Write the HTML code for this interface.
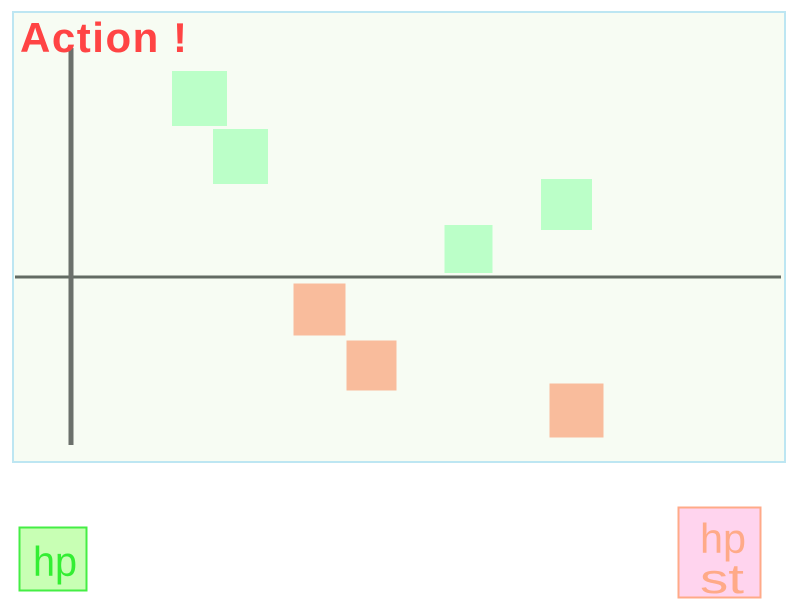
<!DOCTYPE html>
<html><head><meta charset="utf-8"><style>
body{margin:0;width:800px;height:600px;background:#fff;overflow:hidden;font-family:"Liberation Mono",monospace}
</style></head><body>
<svg width="800" height="600" xmlns="http://www.w3.org/2000/svg">
<rect x="13" y="12" width="772" height="450" fill="#f7fcf3" stroke="#bde6f2" stroke-width="2"/>
<g id="marks"></g>
<rect x="15" y="275.5" width="766" height="3" fill="#636b63"/>
<rect x="68.5" y="48" width="5" height="397" fill="#6b706b"/>
<text x="20" y="52" font-size="42" font-weight="bold" fill="#ff4444" font-family="Liberation Sans Narrow, Liberation Sans, sans-serif" textLength="167" lengthAdjust="spacing">Action !</text>
<g>
<rect x="19.5" y="527.5" width="67" height="63" fill="#c8ffb4" stroke="#44ee44" stroke-width="2"/>
<text x="33" y="576" font-size="42" fill="#33ee33" font-family="Liberation Sans Narrow, Liberation Sans, sans-serif" textLength="44" lengthAdjust="spacingAndGlyphs">hp</text>
</g>
<g>
<rect x="678.5" y="507.5" width="82" height="90" fill="#ffd4ee" stroke="#ffaa88" stroke-width="2"/>
<text x="700" y="553" font-size="42" fill="#ffaa88" font-family="Liberation Sans Narrow, Liberation Sans, sans-serif" textLength="46" lengthAdjust="spacingAndGlyphs">hp</text>
<text x="700" y="593" font-size="42" fill="#ffaa88" font-family="Liberation Sans Narrow, Liberation Sans, sans-serif" textLength="44" lengthAdjust="spacingAndGlyphs">st</text>
</g>
</svg>
<script>
const posX = [12.85, 16.95, 39.75, 49.55];
const posY = [17.85, 12.05, 2.8, 7.25];
const negX = [24.85, 30.05, 50.55];
const negY = [-3.25, -8.85, -13.35];
const posSize = [55, 55, 48, 51];
const negSize = [52, 50, 54];
function sx(v){return 71 + v*10;}
function sy(v){return 277 - v*10;}
const g = document.getElementById('marks');
const NS = 'http://www.w3.org/2000/svg';
function draw(xs, ys, ss, color, nm){
  for(let i=0;i<xs.length;i++){
    const r = document.createElementNS(NS,'rect');
    const s = ss[i];
    r.setAttribute('x', sx(xs[i]) - s/2);
    r.setAttribute('y', sy(ys[i]) - s/2);
    r.setAttribute('width', s);
    r.setAttribute('height', s);
    r.setAttribute('fill', color);
    
    
    g.appendChild(r);
  }
}
draw(posX, posY, posSize, '#bbffc8', 'hp');
draw(negX, negY, negSize, '#f9bc9c', 'hpst');
</script>
</body></html>
